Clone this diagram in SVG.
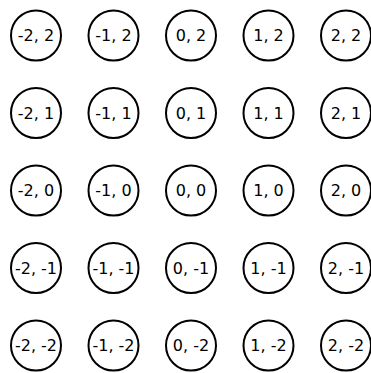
<svg xmlns="http://www.w3.org/2000/svg" width="371" height="373" viewBox="0 0 371 373">
<style>
circle{fill:#fff;stroke:#000;stroke-width:2}
text{font-family:"DejaVu Sans",sans-serif;font-size:16px;text-anchor:middle;dominant-baseline:central;fill:#000}
</style>
<rect width="371" height="373" fill="#fff"/>
<g id="connectors"/>
<g id="n-2_2"><circle cx="36" cy="35.5" r="25"/><text x="36" y="35.5">-2, 2</text></g>
<g id="n-1_2"><circle cx="113.5" cy="35.5" r="25"/><text x="113.5" y="35.5">-1, 2</text></g>
<g id="n0_2"><circle cx="191" cy="35.5" r="25"/><text x="191" y="35.5">0, 2</text></g>
<g id="n1_2"><circle cx="268.5" cy="35.5" r="25"/><text x="268.5" y="35.5">1, 2</text></g>
<g id="n2_2"><circle cx="346" cy="35.5" r="25"/><text x="346" y="35.5">2, 2</text></g>
<g id="n-2_1"><circle cx="36" cy="113" r="25"/><text x="36" y="113">-2, 1</text></g>
<g id="n-1_1"><circle cx="113.5" cy="113" r="25"/><text x="113.5" y="113">-1, 1</text></g>
<g id="n0_1"><circle cx="191" cy="113" r="25"/><text x="191" y="113">0, 1</text></g>
<g id="n1_1"><circle cx="268.5" cy="113" r="25"/><text x="268.5" y="113">1, 1</text></g>
<g id="n2_1"><circle cx="346" cy="113" r="25"/><text x="346" y="113">2, 1</text></g>
<g id="n-2_0"><circle cx="36" cy="190.5" r="25"/><text x="36" y="190.5">-2, 0</text></g>
<g id="n-1_0"><circle cx="113.5" cy="190.5" r="25"/><text x="113.5" y="190.5">-1, 0</text></g>
<g id="n0_0"><circle cx="191" cy="190.5" r="25"/><text x="191" y="190.5">0, 0</text></g>
<g id="n1_0"><circle cx="268.5" cy="190.5" r="25"/><text x="268.5" y="190.5">1, 0</text></g>
<g id="n2_0"><circle cx="346" cy="190.5" r="25"/><text x="346" y="190.5">2, 0</text></g>
<g id="n-2_-1"><circle cx="36" cy="268" r="25"/><text x="36" y="268">-2, -1</text></g>
<g id="n-1_-1"><circle cx="113.5" cy="268" r="25"/><text x="113.5" y="268">-1, -1</text></g>
<g id="n0_-1"><circle cx="191" cy="268" r="25"/><text x="191" y="268">0, -1</text></g>
<g id="n1_-1"><circle cx="268.5" cy="268" r="25"/><text x="268.5" y="268">1, -1</text></g>
<g id="n2_-1"><circle cx="346" cy="268" r="25"/><text x="346" y="268">2, -1</text></g>
<g id="n-2_-2"><circle cx="36" cy="345.5" r="25"/><text x="36" y="345.5">-2, -2</text></g>
<g id="n-1_-2"><circle cx="113.5" cy="345.5" r="25"/><text x="113.5" y="345.5">-1, -2</text></g>
<g id="n0_-2"><circle cx="191" cy="345.5" r="25"/><text x="191" y="345.5">0, -2</text></g>
<g id="n1_-2"><circle cx="268.5" cy="345.5" r="25"/><text x="268.5" y="345.5">1, -2</text></g>
<g id="n2_-2"><circle cx="346" cy="345.5" r="25"/><text x="346" y="345.5">2, -2</text></g>
</svg>
